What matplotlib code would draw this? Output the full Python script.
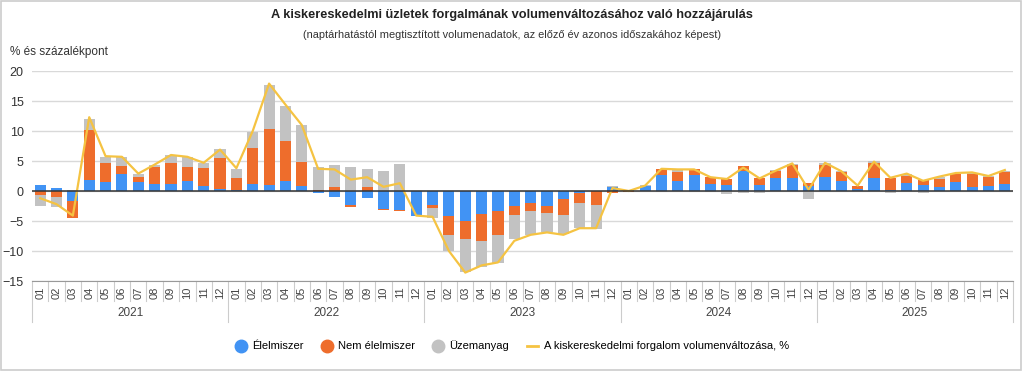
import matplotlib
matplotlib.use("Agg")
import matplotlib.pyplot as plt
import matplotlib.transforms as mtransforms
from matplotlib.lines import Line2D
from matplotlib.patches import Rectangle
import numpy as np

plt.rcParams['font.family'] = ['Liberation Sans', 'DejaVu Sans']

years = ['2021', '2022', '2023', '2024', '2025']
months = ['01', '02', '03', '04', '05', '06', '07', '08', '09', '10', '11', '12']

food = [1.0, 0.5, -1.6, 1.9, 1.5, 2.8, 1.5, 1.2, 1.2, 1.6, 0.9, 0.4,
        0.1, 1.2, 1.0, 1.6, 0.9, -0.4, -1.0, -2.3, -1.2, -3.0, -3.2, -4.1,
        -2.4, -4.1, -5.0, -3.9, -3.4, -2.5, -2.0, -2.5, -1.4, -0.4, 0.0, 0.7,
        0.1, 0.8, 2.7, 1.6, 2.7, 1.2, 1.0, 3.3, 1.0, 2.1, 2.1, 0.9,
        2.3, 1.6, 0.3, 2.2, 0.2, 1.3, 1.0, 0.7, 1.5, 0.6, 0.9, 1.1]
nonfood = [-0.7, -1.0, -2.9, 8.2, 3.1, 1.3, 0.9, 2.8, 3.4, 2.4, 2.9, 5.1,
           2.1, 5.9, 9.4, 6.7, 3.9, 0.2, 0.6, -0.3, 0.6, -0.2, -0.2, 0.0,
           -0.5, -3.3, -3.0, -4.4, -3.9, -1.5, -1.4, -1.2, -2.6, -1.6, -2.4, -0.4,
           -0.1, 0.0, 0.9, 1.5, 0.9, 1.1, 1.0, 0.8, 1.2, 1.3, 2.2, 0.4,
           2.0, 1.5, 0.5, 2.4, 2.0, 1.2, 0.8, 1.3, 1.3, 2.3, 1.4, 2.1]
fuel = [-1.8, -1.7, 0.2, 1.9, 1.1, 1.5, 0.5, 0.3, 1.4, 1.6, 0.8, 1.5,
        1.4, 2.8, 7.3, 5.9, 6.2, 3.8, 3.8, 4.0, 3.0, 3.4, 4.5, 0.0,
        -1.6, -2.6, -5.5, -4.4, -4.7, -4.0, -4.0, -3.1, -3.2, -4.2, -3.9, 0.2,
        0.0, 0.2, -0.2, 0.4, -0.2, -0.2, -0.5, -0.4, -0.4, 0.1, 0.2, -1.4,
        0.3, 0.2, 0.0, 0.4, -0.3, 0.3, -0.4, 0.3, 0.1, 0.1, 0.2, 0.2]
total = [-1.2, -2.2, -4.1, 12.3, 5.8, 5.7, 2.9, 4.4, 6.0, 5.7, 4.7, 6.9,
         3.8, 10.0, 17.9, 14.4, 11.0, 3.7, 3.6, 1.9, 2.3, 0.7, 1.3, -4.1,
         -4.3, -10.0, -13.6, -12.4, -11.9, -8.3, -7.3, -6.9, -7.3, -6.2, -6.2, 0.5,
         0.0, 0.9, 3.7, 3.6, 3.6, 2.3, 2.0, 3.9, 2.1, 3.4, 4.6, 0.2,
         4.7, 3.3, 0.9, 4.9, 2.2, 2.9, 1.7, 2.4, 3.0, 3.1, 2.5, 3.5]

series_names = ['Élelmiszer', 'Nem élelmiszer', 'Üzemanyag']
line_name = 'A kiskereskedelmi forgalom volumenváltozása, %'
colors = ['#4193F4', '#EE6D2C', '#C2C2C2']
line_color = '#F5C342'


def main():
    fig = plt.figure(figsize=(10.24, 3.71), dpi=100)
    ax = fig.add_axes([32 / 1024, 1 - 281 / 371, 981 / 1024, 210 / 371])

    x = np.arange(len(food))
    pos_base = np.zeros(len(x))
    neg_base = np.zeros(len(x))
    for vals, col in zip([food, nonfood, fuel], colors):
        v = np.array(vals)
        bottom = np.where(v >= 0, pos_base, neg_base)
        ax.bar(x, v, bottom=bottom, width=0.68, color=col, zorder=2)
        pos_base = pos_base + np.where(v > 0, v, 0)
        neg_base = neg_base + np.where(v < 0, v, 0)

    ax.plot(x, total, color=line_color, lw=1.6, zorder=3)

    ax.set_xlim(-0.5, len(x) - 0.5)
    ax.set_ylim(-15, 20)
    ax.set_yticks(range(-15, 21, 5))
    ax.tick_params(axis='y', length=0, labelsize=9, colors='#333333', pad=6)
    ax.yaxis.grid(True, color='#d9d9d9', lw=1)
    ax.axhline(0, color='#333333', lw=1.1, zorder=4)
    for s in ['top', 'right', 'left']:
        ax.spines[s].set_visible(False)
    ax.spines['bottom'].set_color('#999999')
    ax.set_axisbelow(True)

    ax.set_xticks(x)
    ax.set_xticklabels(months * len(years), rotation=90, fontsize=8, color='#444444')
    ax.tick_params(axis='x', length=0, pad=4)

    # category separators below the axis
    trans = mtransforms.blended_transform_factory(ax.transData, ax.transAxes)
    for i in range(len(x) + 1):
        depth = -0.195 if i % 12 == 0 else -0.095
        ax.plot([i - 0.5, i - 0.5], [0, depth], transform=trans, color='#cccccc',
                lw=0.8, clip_on=False)
    for k, yr in enumerate(years):
        ax.text(k * 12 + 5.5, -0.152, yr, transform=trans, ha='center', va='center',
                fontsize=8.5, color='#444444')

    fig.text(0.5, 1 - 15 / 371, 'A kiskereskedelmi üzletek forgalmának volumenváltozásához való hozzájárulás',
             ha='center', va='center', fontsize=9.2, fontweight='bold', color='#222222')
    fig.text(0.5, 1 - 35 / 371, '(naptárhatástól megtisztított volumenadatok, az előző év azonos időszakához képest)',
             ha='center', va='center', fontsize=7.9, color='#333333')
    fig.text(10 / 1024, 1 - 52 / 371, '% és százalékpont', ha='left', va='center',
             fontsize=8.5, color='#333333')

    handles = [Line2D([], [], marker='o', ls='none', markersize=9, color=c) for c in colors]
    handles.append(Line2D([], [], color=line_color, lw=2))
    fig.legend(handles, series_names + [line_name], loc='center',
               bbox_to_anchor=(0.5, 1 - 346 / 371), ncol=4, frameon=False,
               fontsize=8, handlelength=1.0, handletextpad=0.5, columnspacing=1.6)

    fig.patches.append(Rectangle((0.001, 0.003), 0.996, 0.994, transform=fig.transFigure,
                                 fill=False, edgecolor='#cccccc', lw=1.2))

    plt.savefig('out.png', dpi=100)


if __name__ == "__main__":
    main()
